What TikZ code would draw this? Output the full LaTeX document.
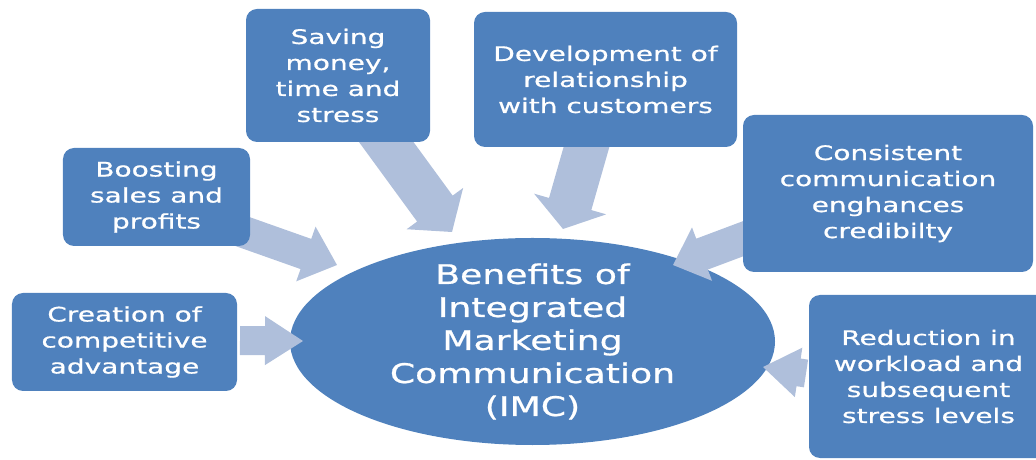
\documentclass[tikz,border=0pt]{standalone}
\usepackage{fontspec}
\setmainfont{DejaVu Sans}[FakeStretch=1.4,FakeBold=0.8]
\newfontfamily\imcfont{DejaVu Sans}[FakeStretch=1.34,FakeBold=0.8]
\usetikzlibrary{shapes.geometric,calc}
\definecolor{boxblue}{HTML}{4F81BD}
\definecolor{arrowblue}{HTML}{AFBFDB}
\tikzset{
  benefit/.style={fill=boxblue, rounded corners=11bp, text=white, align=center,
    font=\fontsize{20bp}{26bp}\selectfont, inner sep=0pt},
  imcshape/.style={ellipse, fill=boxblue, inner sep=0pt},
  imctext/.style={text=white, align=center, font=\imcfont\fontsize{27bp}{33bp}\selectfont, inner sep=0pt},
  blockarrow/.style={fill=arrowblue},
}
% tail, tip, half shaft width, half head width, head length
\newcommand{\blockarr}[5]{%
  \coordinate (ba-base) at ($(#2)!#5!(#1)$);
  \fill[blockarrow] ($(#1)!#3!90:(#2)$) -- ($(ba-base)!#3!-90:(#1)$) -- ($(ba-base)!#4!-90:(#1)$)
    -- (#2) -- ($(ba-base)!#4!90:(#1)$) -- ($(ba-base)!#3!90:(#1)$) -- ($(#1)!#3!-90:(#2)$) -- cycle;
}
\begin{document}
\begin{tikzpicture}[x=1bp,y=-1bp]
\path[use as bounding box] (0,0) rectangle (1036,460);
\clip (0,0) rectangle (1036,460);

% central ellipse
\node[imcshape, minimum width=485bp, minimum height=207bp] (imc) at (532.5,341.5) {};

% arrow end points
\coordinate (boost-t) at (233.3,228.3);   \coordinate (boost-h) at (337,265);
\coordinate (create-t) at (240,340.5);    \coordinate (create-h) at (303,341);
\coordinate (save-t) at (369.4,119);      \coordinate (save-h) at (452,232);
\coordinate (devel-t) at (590.5,133);     \coordinate (devel-h) at (563,229);
\coordinate (consist-t) at (776,226.4);   \coordinate (consist-h) at (673,265);
\coordinate (reduce-t) at (806,373.5);    \coordinate (reduce-h) at (763,367);

\blockarr{boost-t}{boost-h}{16bp}{29bp}{33bp}
\blockarr{create-t}{create-h}{14.5bp}{24.5bp}{38bp}
\blockarr{save-t}{save-h}{22bp}{35bp}{29bp}
\blockarr{devel-t}{devel-h}{22bp}{37.5bp}{26bp}
\blockarr{consist-t}{consist-h}{16.5bp}{28.5bp}{31bp}
\blockarr{reduce-t}{reduce-h}{14bp}{25bp}{36bp}

% benefit boxes
\node[benefit, minimum width=187bp, minimum height=98bp] (boost) at (156.5,197)
  {Boosting\\sales and\\profits};
\node[benefit, minimum width=225bp, minimum height=98bp] (create) at (124.5,342)
  {Creation of\\competitive\\advantage};
\node[benefit, minimum width=184bp, minimum height=133bp] (save) at (338,75.5)
  {Saving\\money,\\time and\\stress};
\node[benefit, minimum width=263bp, minimum height=135bp] (devel) at (605.5,79.5)
  {Development of\\relationship\\with customers};
\node[benefit, minimum width=290bp, minimum height=157bp] (consist) at (888,193.5)
  {Consistent\\communication\\enghances\\credibilty};
\node[benefit, minimum width=239bp, minimum height=163bp] (reduce) at (928.5,376.5)
  {Reduction in\\workload and\\subsequent\\stress levels};

% central text
\node[imctext] (imclabel) at (imc.center)
  {Benefits of\\Integrated\\Marketing\\Communication\\(IMC)};
\end{tikzpicture}
\end{document}
